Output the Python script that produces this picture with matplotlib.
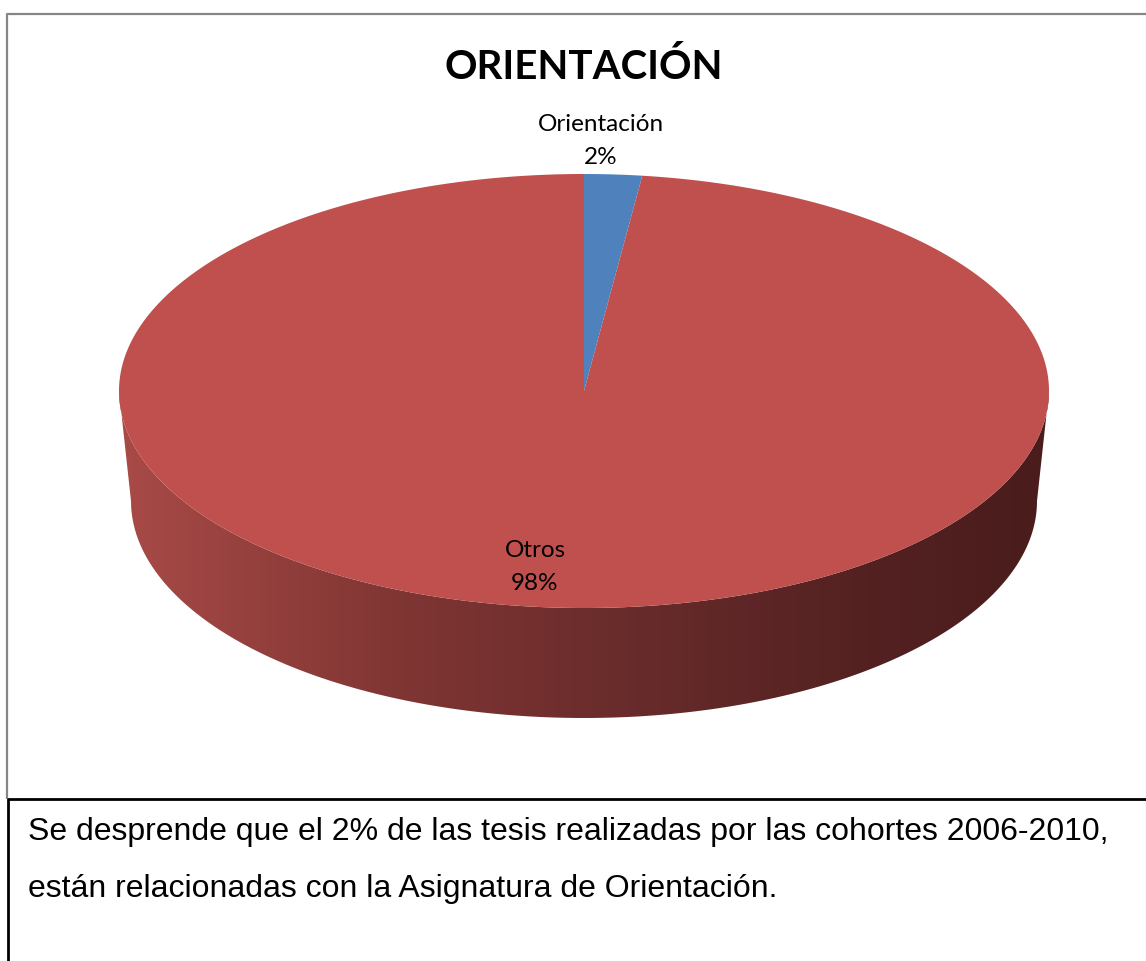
import matplotlib.pyplot as plt
import numpy as np
from matplotlib.patches import Polygon
from matplotlib.colors import LinearSegmentedColormap

# datos del grafico
categorias = ['Orientación', 'Otros']
valores = [2, 98]
colores = ['#4F81BD', '#C0504D']
titulo = 'ORIENTACIÓN'
lineas = ['Se desprende que el 2% de las tesis realizadas por las cohortes 2006-2010,',
          'están relacionadas con la Asignatura de Orientación.']

W, H = 1146, 962
fig = plt.figure(figsize=(W / 100, H / 100), dpi=100)
ax = fig.add_axes([0, 0, 1, 1])
ax.set_xlim(0, W)
ax.set_ylim(H, 0)
ax.axis('off')

# geometria de la torta 3D (en pixeles)
cx, cy = 584, 392
a, b = 465, 217
prof = 110
a2, b2 = 453, 217


def punto(t, x0, y0, ra, rb):
    # t en grados, medido desde arriba en sentido horario
    r = np.radians(t)
    return x0 + ra * np.sin(r), y0 - rb * np.cos(r)


# lateral (mitad de adelante) con degradado
t = np.linspace(90, 270, 200)
xs, ys = punto(t, cx, cy, a, b)
xb, yb = punto(t[::-1], cx, cy + prof, a2, b2)
lado = Polygon(np.column_stack([np.r_[xs, xb], np.r_[ys, yb]]), closed=True,
               facecolor='none', edgecolor='none')
ax.add_patch(lado)
cmap = LinearSegmentedColormap.from_list('lado', [
    (0.0, (0.66, 0.29, 0.28)), (0.3, (0.50, 0.21, 0.20)),
    (0.55, (0.41, 0.17, 0.17)), (0.8, (0.33, 0.13, 0.13)), (1.0, (0.29, 0.11, 0.11))])
grad = np.linspace(0, 1, 256).reshape(1, -1)
img = ax.imshow(grad, cmap=cmap, extent=[cx - a, cx + a, cy + prof + b2 + 5, cy - 20],
                aspect='auto', interpolation='bilinear')
img.set_clip_path(lado)

# tapa superior
total = sum(valores)
ini = 0.0
for val, col in zip(valores, colores):
    fin = ini + 360.0 * val / total
    tt = np.linspace(ini, fin, max(int(fin - ini) * 2, 10))
    px, py = punto(tt, cx, cy, a, b)
    poly = Polygon(np.column_stack([np.r_[cx, px], np.r_[cy, py]]), closed=True,
                   facecolor=col, edgecolor='none')
    ax.add_patch(poly)
    ini = fin

# etiquetas
pct = [100.0 * v / total for v in valores]
ax.text(601, 141, f'{categorias[0]}\n{pct[0]:.0f}%', ha='center', va='center',
        fontsize=17.5, family='Lato', linespacing=1.75)
ax.text(535, 567, f'{categorias[1]}\n{pct[1]:.0f}%', ha='center', va='center',
        fontsize=17.5, family='Lato', linespacing=1.75)

# titulo
ax.text(584, 67, titulo, ha='center', va='center', fontsize=29, fontweight='bold',
        family='Lato')

# marcos
ax.plot([7, 7, W], [800, 15, 15], color='#868686', lw=1.6, solid_capstyle='butt')
ax.plot([W, 8, 8], [800, 800, H], color='black', lw=2.0, solid_capstyle='butt')

# texto de abajo
ax.text(28, 840, lineas[0], ha='left', va='baseline', fontsize=23,
        family='Liberation Sans')
ax.text(28, 897, lineas[1], ha='left', va='baseline', fontsize=23,
        family='Liberation Sans')

fig.savefig('out.png', dpi=100)
